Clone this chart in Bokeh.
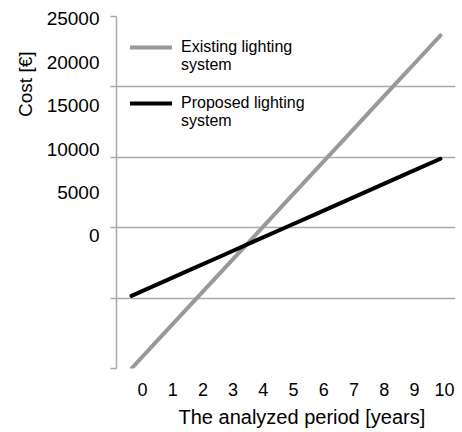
from bokeh.plotting import figure
from bokeh.models import (Range1d, LinearAxis, FixedTicker, Legend, LegendItem,
                          Title, CustomJSTickFormatter)
from bokeh.embed import file_html
from bokeh.resources import INLINE

# ---- data ----
years = [0, 1, 2, 3, 4, 5, 6, 7, 8, 9, 10]
existing_cost = [0, 2370, 4730, 7100, 9460, 11830, 14200, 16560, 18930, 21290, 23660]
proposed_cost = [5160, 6130, 7110, 8080, 9060, 10030, 11000, 11980, 12950, 13930, 14900]
y_tick_values = [0, 5000, 10000, 15000, 20000, 25000]
x_tick_values = [0, 1, 2, 3, 4, 5, 6, 7, 8, 9, 10]
series_names = ["\nExisting lighting\nsystem", "\nProposed lighting\nsystem"]

FONT = "Liberation Sans"
GRID = "#aaaaaa"

p = figure(width=462, height=432,
           x_range=Range1d(-0.485, 10.485), y_range=Range1d(0, 25000),
           output_backend="svg", toolbar_location=None,
           min_border_left=116, min_border_right=7,
           min_border_top=16, min_border_bottom=62)
p.outline_line_color = None
p.background_fill_color = "white"

# label ranges (tick labels in the reference are offset from the grid)
p.extra_x_ranges = {"xl": Range1d(-0.86, 10.36)}
p.extra_y_ranges = {"yl": Range1d(-15250, 25250)}

# main axes
p.xaxis.visible = False
p.xgrid.visible = False
ya = p.yaxis[0]
ya.ticker = FixedTicker(ticks=y_tick_values)
ya.formatter = CustomJSTickFormatter(code="return ''")
ya.axis_line_color = GRID
ya.axis_line_width = 1.5
ya.major_tick_line_color = GRID
ya.major_tick_line_width = 1.5
ya.major_tick_out = 6
ya.major_tick_in = 0
ya.minor_tick_line_color = None
ya.major_label_standoff = 0
ya.axis_label_standoff = 0

p.ygrid.ticker = FixedTicker(ticks=y_tick_values)
p.ygrid.grid_line_color = GRID
p.ygrid.grid_line_width = 1.5

# label axes
yl = LinearAxis(y_range_name="yl", ticker=FixedTicker(ticks=y_tick_values),
                axis_line_color=None, major_tick_line_color=None,
                minor_tick_line_color=None, major_label_standoff=5,
                major_label_text_font=FONT, major_label_text_font_size="19px",
                major_label_text_color="black")
p.add_layout(yl, "left")

xl = LinearAxis(x_range_name="xl", ticker=FixedTicker(ticks=x_tick_values),
                axis_line_color=None, major_tick_line_color=None,
                minor_tick_line_color=None, major_label_standoff=8,
                major_label_text_font=FONT, major_label_text_font_size="18px",
                major_label_text_color="black")
p.add_layout(xl, "below")

p.add_layout(Title(text="The analyzed period [years]", align="left", offset=62,
                   standoff=10, text_font=FONT, text_font_size="20px",
                   text_font_style="normal", text_color="black"), "below")
p.add_layout(Title(text="Cost [€]", align="right", offset=35, standoff=16,
                   text_font=FONT, text_font_size="19px",
                   text_font_style="normal", text_color="black"), "left")

# lines
r1 = p.line(years, existing_cost, line_color="#999999", line_width=4, line_cap="round")
r2 = p.line(years, proposed_cost, line_color="#000000", line_width=4, line_cap="round")

legend = Legend(items=[LegendItem(label=series_names[0], renderers=[r1]),
                       LegendItem(label=series_names[1], renderers=[r2])],
                location=(14, 238), margin=0, padding=0,
                border_line_color=None, background_fill_alpha=0,
                glyph_width=42, glyph_height=30, label_height=30,
                label_standoff=9, spacing=2,
                label_text_font=FONT, label_text_font_size="16px",
                label_text_line_height=0.2, label_text_color="black")
p.add_layout(legend)

open("out.html", "w").write(file_html(p, INLINE))
